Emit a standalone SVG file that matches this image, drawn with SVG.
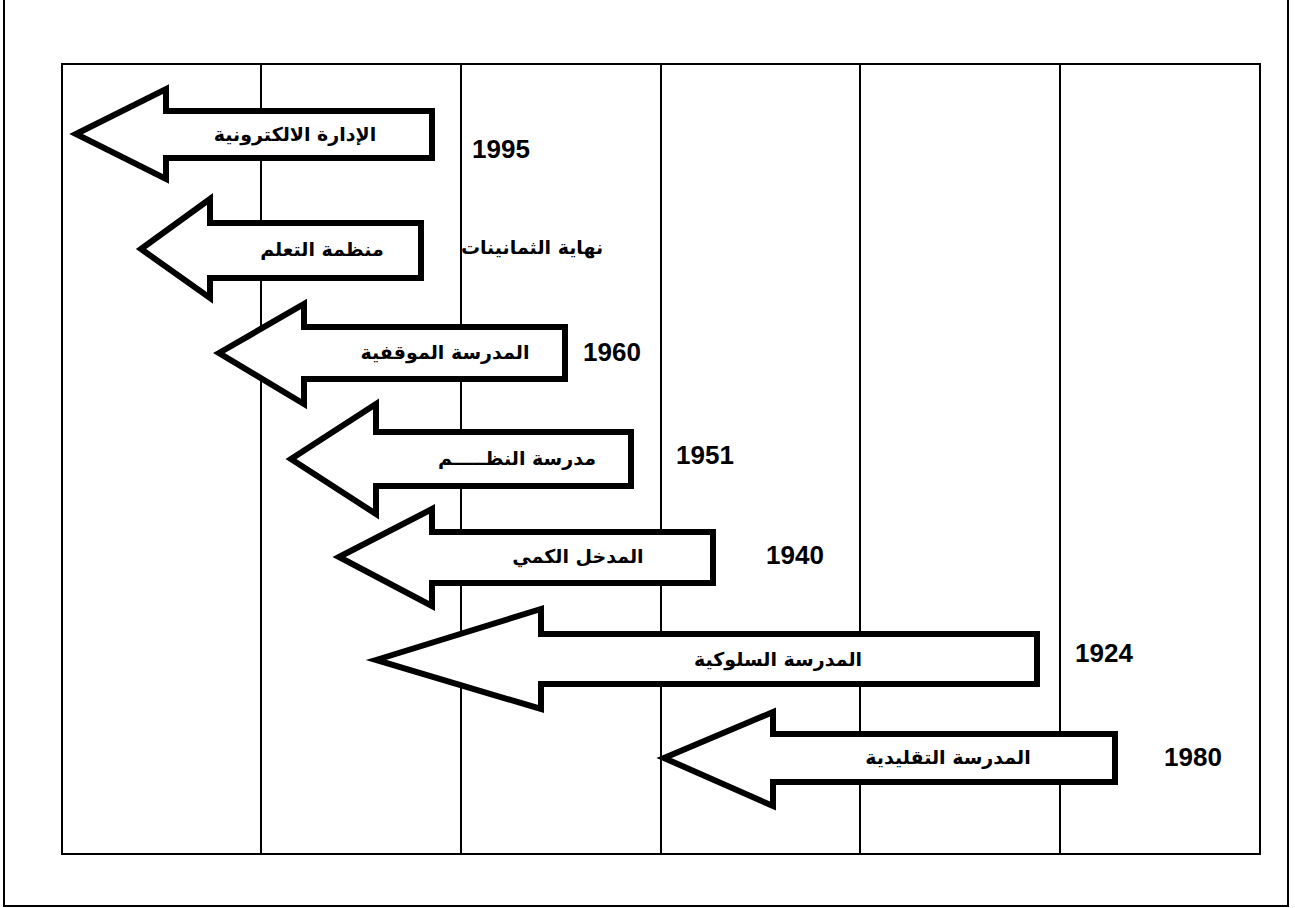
<svg xmlns="http://www.w3.org/2000/svg" width="1295" height="908" viewBox="0 0 1295 908">
<style>
.frame{fill:none;stroke:#000;stroke-width:2}
.grid line{stroke:#000;stroke-width:2}
.arrow{fill:#fff;stroke:#000;stroke-width:6;stroke-linejoin:miter;stroke-miterlimit:6}
.ar{font-family:"DejaVu Sans","Noto Sans",sans-serif;font-weight:bold;font-size:19px;fill:#000;text-anchor:middle}
.yr{font-family:"Liberation Sans",Arial,sans-serif;font-weight:bold;font-size:26px;fill:#000;text-anchor:middle}
</style>
<rect width="1295" height="908" fill="#fff"/>
<rect class="frame" x="4" y="-5" width="1284" height="911"/>
<g id="grid" class="grid">
<rect class="frame" x="62" y="64" width="1198" height="790"/>
<line x1="261" y1="64" x2="261" y2="854"/>
<line x1="461" y1="64" x2="461" y2="854"/>
<line x1="661" y1="64" x2="661" y2="854"/>
<line x1="860" y1="64" x2="860" y2="854"/>
<line x1="1060" y1="64" x2="1060" y2="854"/>
</g>
<g id="n1">
<path class="arrow" d="M76,134 L166,89 L166,111 L432,111 L432,158 L166,158 L166,179 Z"/>
<text class="ar" x="295" y="141" direction="rtl">الإدارة الالكترونية</text>
<text class="yr" x="501" y="158">1995</text>
</g>
<g id="n2">
<path class="arrow" d="M141,249 L210,199 L210,223 L421,223 L421,278 L210,278 L210,298 Z"/>
<text class="ar" x="322" y="256" direction="rtl">منظمة التعلم</text>
<text class="ar" x="532" y="254" direction="rtl">نهاية الثمانينات</text>
</g>
<g id="n3">
<path class="arrow" d="M219,353 L304,304 L304,327 L565,327 L565,379 L304,379 L304,404 Z"/>
<text class="ar" x="445" y="359" direction="rtl">المدرسة الموقفية</text>
<text class="yr" x="612" y="361">1960</text>
</g>
<g id="n4">
<path class="arrow" d="M291,459 L376,404 L376,432 L631,432 L631,486 L376,486 L376,514 Z"/>
<text class="ar" x="517" y="465" direction="rtl">مدرسة النظـــــم</text>
<text class="yr" x="705" y="464">1951</text>
</g>
<g id="n5">
<path class="arrow" d="M339,557 L432,509 L432,532 L713,532 L713,583 L432,583 L432,606 Z"/>
<text class="ar" x="578" y="563" direction="rtl">المدخل الكمي</text>
<text class="yr" x="795" y="564">1940</text>
</g>
<g id="n6">
<path class="arrow" d="M376,660 L541,609 L541,634 L1037,634 L1037,684 L541,684 L541,709 Z"/>
<text class="ar" x="778" y="666" direction="rtl">المدرسة السلوكية</text>
<text class="yr" x="1104" y="662">1924</text>
</g>
<g id="n7">
<path class="arrow" d="M664,758 L773,712 L773,734 L1115,734 L1115,782 L773,782 L773,806 Z"/>
<text class="ar" x="948" y="764" direction="rtl">المدرسة التقليدية</text>
<text class="yr" x="1193" y="766">1980</text>
</g>
</svg>
